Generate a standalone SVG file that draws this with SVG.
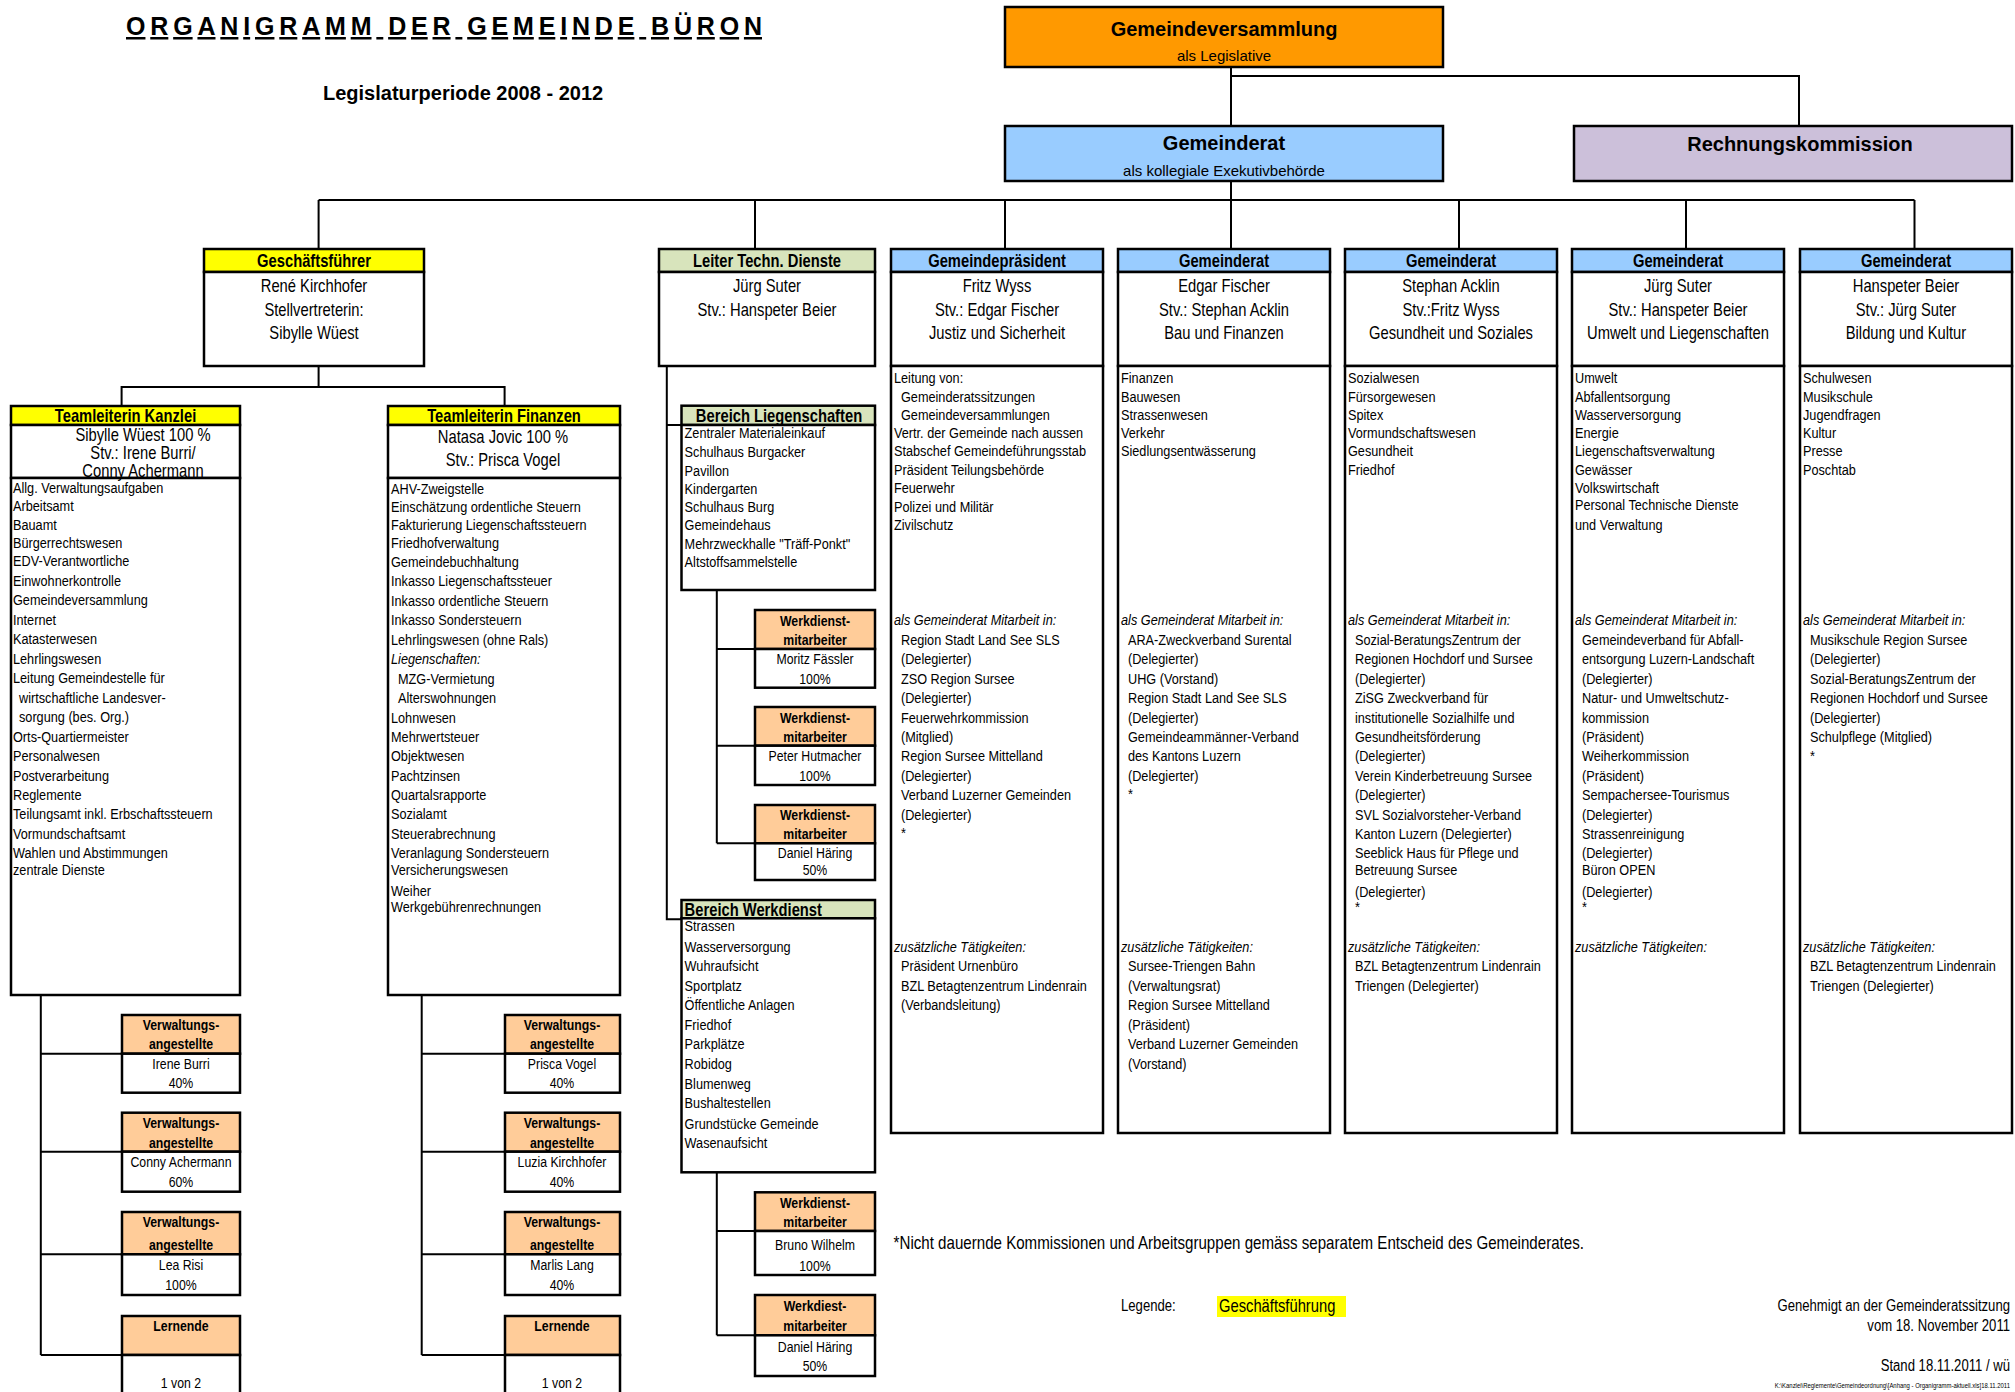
<svg xmlns="http://www.w3.org/2000/svg" width="2015" height="1392" viewBox="0 0 2015 1392">
<style>
.box{fill:#fff;stroke:#000;stroke-width:2.5}
.hy{fill:#FFFF00;stroke:#000;stroke-width:2.5}
.hg{fill:#D8E4BC;stroke:#000;stroke-width:2.5}
.hb{fill:#99CCFF;stroke:#000;stroke-width:2.5}
.hp{fill:#FFCC99;stroke:#000;stroke-width:2.5}
.ho{fill:#FF9900;stroke:#000;stroke-width:2.5}
.hl{fill:#CCC0DA;stroke:#000;stroke-width:2.5}
#connectors path{fill:none;stroke:#000;stroke-width:2}
text{font-family:"Liberation Sans",Arial,sans-serif;fill:#000}
.c{text-anchor:middle}
.r{text-anchor:end}
.b20{font-size:20px;font-weight:bold}
.s15{font-size:15px}
.b18{font-size:18px;font-weight:bold}
.n18{font-size:18px}
.n16{font-size:16px}
.l{font-size:15.5px}
.it{font-style:italic}
.b15{font-size:15px;font-weight:bold}
.n15{font-size:15px}
</style>

<g id="title">
<text x="126" y="35" font-size="25" font-weight="bold" textLength="636" lengthAdjust="spacing" text-decoration="underline">ORGANIGRAMM DER GEMEINDE BÜRON</text>
<text x="323" y="100" font-size="20" font-weight="bold">Legislaturperiode 2008 - 2012</text>
</g>

<g id="connectors">
<path d="M1231,67 V126"/>
<path d="M1231,76 H1799 V126"/>
<path d="M1231,181 V249"/>
<path d="M318.6,200 H1914.5"/>
<path d="M318.6,200 V249 M755,200 V249 M1005,200 V249 M1459,200 V249 M1686,200 V249 M1914.5,200 V249"/>
<path d="M318.6,366 V387 M121.6,406 V387 H504.6 V406"/>
<path d="M40.8,995 V1355 M40.8,1053.7 H122 M40.8,1151.7 H122 M40.8,1254.3 H122 M40.8,1355 H122"/>
<path d="M421.7,995 V1355 M421.7,1053.7 H505 M421.7,1151.7 H505 M421.7,1254.3 H505 M421.7,1355 H505"/>
<path d="M666.8,366 V919.3 H681.5 M666.8,425 H681.5"/>
<path d="M716.8,590 V843.3 M716.8,649 H755 M716.8,745.7 H755 M716.8,843.3 H755"/>
<path d="M716.8,1172.3 V1335.3 M716.8,1231 H755 M716.8,1335.3 H755"/>
</g>

<g id="gemeindeversammlung">
<rect class="ho" x="1005" y="7" width="438" height="60"/>
<text class="b20 c" x="1224" y="36">Gemeindeversammlung</text>
<text class="s15 c" x="1224" y="61">als Legislative</text>
</g>

<g id="gemeinderat">
<rect class="hb" x="1005" y="126" width="438" height="55"/>
<text class="b20 c" x="1224" y="150">Gemeinderat</text>
<text class="s15 c" x="1224" y="175.5">als kollegiale Exekutivbehörde</text>
</g>

<g id="rechnungskommission">
<rect class="hl" x="1574" y="126" width="438" height="55"/>
<text class="b20 c" x="1800" y="151">Rechnungskommission</text>
</g>

<g id="geschaeftsfuehrer">
<rect class="hy" x="204" y="249" width="220" height="23"/>
<rect class="box" x="204" y="272" width="220" height="94"/>
<g transform="matrix(.82 0 0 1 314 0)">
<text class="b18 c" x="0" y="267">Geschäftsführer</text>
<text class="n18 c" x="0" y="292">René Kirchhofer</text>
<text class="n18 c" x="0" y="316">Stellvertreterin:</text>
<text class="n18 c" x="0" y="339">Sibylle Wüest</text>
</g>
</g>

<g id="leiter-techn-dienste">
<rect class="hg" x="659" y="249" width="216" height="23"/>
<rect class="box" x="659" y="272" width="216" height="94"/>
<g transform="matrix(.82 0 0 1 767 0)">
<text class="b18 c" x="0" y="267">Leiter Techn. Dienste</text>
<text class="n18 c" x="0" y="292">Jürg Suter</text>
<text class="n18 c" x="0" y="316">Stv.: Hanspeter Beier</text>
</g>
</g>

<g id="gemeindepraesident">
<rect class="hb" x="891" y="249" width="212" height="23"/>
<rect class="box" x="891" y="272" width="212" height="94"/>
<rect class="box" x="891" y="366" width="212" height="767"/>
<g transform="matrix(.82 0 0 1 997 0)">
<text class="b18 c" x="0" y="267">Gemeindepräsident</text>
<text class="n18 c" x="0" y="292">Fritz Wyss</text>
<text class="n18 c" x="0" y="316">Stv.: Edgar Fischer</text>
<text class="n18 c" x="0" y="339">Justiz und Sicherheit</text>
</g>
<g transform="matrix(.82 0 0 1 894 0)">
<text class="l">
<tspan x="0" y="382.7">Leitung von:</tspan>
<tspan x="8.5" y="401.7">Gemeinderatssitzungen</tspan>
<tspan x="8.5" y="419.7">Gemeindeversammlungen</tspan>
<tspan x="0" y="438">Vertr. der Gemeinde nach aussen</tspan>
<tspan x="0" y="456">Stabschef Gemeindeführungsstab</tspan>
<tspan x="0" y="474.7">Präsident Teilungsbehörde</tspan>
<tspan x="0" y="493.3">Feuerwehr</tspan>
<tspan x="0" y="511.7">Polizei und Militär</tspan>
<tspan x="0" y="530">Zivilschutz</tspan>
</text>
<text class="l it" x="0" y="625">als Gemeinderat Mitarbeit in:</text>
<text class="l">
<tspan x="8.5" y="645">Region Stadt Land See SLS</tspan>
<tspan x="8.5" y="664">(Delegierter)</tspan>
<tspan x="8.5" y="684">ZSO Region Sursee</tspan>
<tspan x="8.5" y="703">(Delegierter)</tspan>
<tspan x="8.5" y="723">Feuerwehrkommission</tspan>
<tspan x="8.5" y="742">(Mitglied)</tspan>
<tspan x="8.5" y="761">Region Sursee Mittelland</tspan>
<tspan x="8.5" y="781">(Delegierter)</tspan>
<tspan x="8.5" y="800">Verband Luzerner Gemeinden</tspan>
<tspan x="8.5" y="820">(Delegierter)</tspan>
<tspan x="8.5" y="838">*</tspan>
</text>
<text class="l it" x="0" y="951.7">zusätzliche Tätigkeiten:</text>
<text class="l">
<tspan x="8.5" y="971">Präsident Urnenbüro</tspan>
<tspan x="8.5" y="991">BZL Betagtenzentrum Lindenrain</tspan>
<tspan x="8.5" y="1010">(Verbandsleitung)</tspan>
</text>
</g>
</g>

<g id="gemeinderat-fischer">
<rect class="hb" x="1118" y="249" width="212" height="23"/>
<rect class="box" x="1118" y="272" width="212" height="94"/>
<rect class="box" x="1118" y="366" width="212" height="767"/>
<g transform="matrix(.82 0 0 1 1224 0)">
<text class="b18 c" x="0" y="267">Gemeinderat</text>
<text class="n18 c" x="0" y="292">Edgar Fischer</text>
<text class="n18 c" x="0" y="316">Stv.: Stephan Acklin</text>
<text class="n18 c" x="0" y="339">Bau und Finanzen</text>
</g>
<g transform="matrix(.82 0 0 1 1121 0)">
<text class="l">
<tspan x="0" y="382.7">Finanzen</tspan>
<tspan x="0" y="401.7">Bauwesen</tspan>
<tspan x="0" y="419.7">Strassenwesen</tspan>
<tspan x="0" y="438">Verkehr</tspan>
<tspan x="0" y="456">Siedlungsentwässerung</tspan>
</text>
<text class="l it" x="0" y="625">als Gemeinderat Mitarbeit in:</text>
<text class="l">
<tspan x="8.5" y="645">ARA-Zweckverband Surental</tspan>
<tspan x="8.5" y="664">(Delegierter)</tspan>
<tspan x="8.5" y="684">UHG (Vorstand)</tspan>
<tspan x="8.5" y="703">Region Stadt Land See SLS</tspan>
<tspan x="8.5" y="723">(Delegierter)</tspan>
<tspan x="8.5" y="742">Gemeindeammänner-Verband</tspan>
<tspan x="8.5" y="761">des Kantons Luzern</tspan>
<tspan x="8.5" y="781">(Delegierter)</tspan>
<tspan x="8.5" y="799">*</tspan>
</text>
<text class="l it" x="0" y="951.7">zusätzliche Tätigkeiten:</text>
<text class="l">
<tspan x="8.5" y="971">Sursee-Triengen Bahn</tspan>
<tspan x="8.5" y="991">(Verwaltungsrat)</tspan>
<tspan x="8.5" y="1010">Region Sursee Mittelland</tspan>
<tspan x="8.5" y="1030">(Präsident)</tspan>
<tspan x="8.5" y="1049">Verband Luzerner Gemeinden</tspan>
<tspan x="8.5" y="1069">(Vorstand)</tspan>
</text>
</g>
</g>

<g id="gemeinderat-acklin">
<rect class="hb" x="1345" y="249" width="212" height="23"/>
<rect class="box" x="1345" y="272" width="212" height="94"/>
<rect class="box" x="1345" y="366" width="212" height="767"/>
<g transform="matrix(.82 0 0 1 1451 0)">
<text class="b18 c" x="0" y="267">Gemeinderat</text>
<text class="n18 c" x="0" y="292">Stephan Acklin</text>
<text class="n18 c" x="0" y="316">Stv.:Fritz Wyss</text>
<text class="n18 c" x="0" y="339">Gesundheit und Soziales</text>
</g>
<g transform="matrix(.82 0 0 1 1348 0)">
<text class="l">
<tspan x="0" y="382.7">Sozialwesen</tspan>
<tspan x="0" y="401.7">Fürsorgewesen</tspan>
<tspan x="0" y="419.7">Spitex</tspan>
<tspan x="0" y="438">Vormundschaftswesen</tspan>
<tspan x="0" y="456">Gesundheit</tspan>
<tspan x="0" y="474.7">Friedhof</tspan>
</text>
<text class="l it" x="0" y="625">als Gemeinderat Mitarbeit in:</text>
<text class="l">
<tspan x="8.5" y="645">Sozial-BeratungsZentrum der</tspan>
<tspan x="8.5" y="664">Regionen Hochdorf und Sursee</tspan>
<tspan x="8.5" y="684">(Delegierter)</tspan>
<tspan x="8.5" y="703">ZiSG Zweckverband für</tspan>
<tspan x="8.5" y="723">institutionelle Sozialhilfe und</tspan>
<tspan x="8.5" y="742">Gesundheitsförderung</tspan>
<tspan x="8.5" y="761">(Delegierter)</tspan>
<tspan x="8.5" y="781">Verein Kinderbetreuung Sursee</tspan>
<tspan x="8.5" y="800">(Delegierter)</tspan>
<tspan x="8.5" y="820">SVL Sozialvorsteher-Verband</tspan>
<tspan x="8.5" y="839">Kanton Luzern (Delegierter)</tspan>
<tspan x="8.5" y="858">Seeblick Haus für Pflege und</tspan>
<tspan x="8.5" y="875">Betreuung Sursee</tspan>
<tspan x="8.5" y="896.7">(Delegierter)</tspan>
<tspan x="8.5" y="912">*</tspan>
</text>
<text class="l it" x="0" y="951.7">zusätzliche Tätigkeiten:</text>
<text class="l">
<tspan x="8.5" y="971">BZL Betagtenzentrum Lindenrain</tspan>
<tspan x="8.5" y="991">Triengen (Delegierter)</tspan>
</text>
</g>
</g>

<g id="gemeinderat-suter">
<rect class="hb" x="1572" y="249" width="212" height="23"/>
<rect class="box" x="1572" y="272" width="212" height="94"/>
<rect class="box" x="1572" y="366" width="212" height="767"/>
<g transform="matrix(.82 0 0 1 1678 0)">
<text class="b18 c" x="0" y="267">Gemeinderat</text>
<text class="n18 c" x="0" y="292">Jürg Suter</text>
<text class="n18 c" x="0" y="316">Stv.: Hanspeter Beier</text>
<text class="n18 c" x="0" y="339">Umwelt und Liegenschaften</text>
</g>
<g transform="matrix(.82 0 0 1 1575 0)">
<text class="l">
<tspan x="0" y="382.7">Umwelt</tspan>
<tspan x="0" y="401.7">Abfallentsorgung</tspan>
<tspan x="0" y="419.7">Wasserversorgung</tspan>
<tspan x="0" y="438">Energie</tspan>
<tspan x="0" y="456">Liegenschaftsverwaltung</tspan>
<tspan x="0" y="474.7">Gewässer</tspan>
<tspan x="0" y="493.3">Volkswirtschaft</tspan>
<tspan x="0" y="510">Personal Technische Dienste</tspan>
<tspan x="0" y="530">und Verwaltung</tspan>
</text>
<text class="l it" x="0" y="625">als Gemeinderat Mitarbeit in:</text>
<text class="l">
<tspan x="8.5" y="645">Gemeindeverband für Abfall-</tspan>
<tspan x="8.5" y="664">entsorgung Luzern-Landschaft</tspan>
<tspan x="8.5" y="684">(Delegierter)</tspan>
<tspan x="8.5" y="703">Natur- und Umweltschutz-</tspan>
<tspan x="8.5" y="723">kommission</tspan>
<tspan x="8.5" y="742">(Präsident)</tspan>
<tspan x="8.5" y="761">Weiherkommission</tspan>
<tspan x="8.5" y="781">(Präsident)</tspan>
<tspan x="8.5" y="800">Sempachersee-Tourismus</tspan>
<tspan x="8.5" y="820">(Delegierter)</tspan>
<tspan x="8.5" y="839">Strassenreinigung</tspan>
<tspan x="8.5" y="858">(Delegierter)</tspan>
<tspan x="8.5" y="875">Büron OPEN</tspan>
<tspan x="8.5" y="896.7">(Delegierter)</tspan>
<tspan x="8.5" y="912">*</tspan>
</text>
<text class="l it" x="0" y="951.7">zusätzliche Tätigkeiten:</text>
</g>
</g>

<g id="gemeinderat-beier">
<rect class="hb" x="1800" y="249" width="212" height="23"/>
<rect class="box" x="1800" y="272" width="212" height="94"/>
<rect class="box" x="1800" y="366" width="212" height="767"/>
<g transform="matrix(.82 0 0 1 1906 0)">
<text class="b18 c" x="0" y="267">Gemeinderat</text>
<text class="n18 c" x="0" y="292">Hanspeter Beier</text>
<text class="n18 c" x="0" y="316">Stv.: Jürg Suter</text>
<text class="n18 c" x="0" y="339">Bildung und Kultur</text>
</g>
<g transform="matrix(.82 0 0 1 1803 0)">
<text class="l">
<tspan x="0" y="382.7">Schulwesen</tspan>
<tspan x="0" y="401.7">Musikschule</tspan>
<tspan x="0" y="419.7">Jugendfragen</tspan>
<tspan x="0" y="438">Kultur</tspan>
<tspan x="0" y="456">Presse</tspan>
<tspan x="0" y="474.7">Poschtab</tspan>
</text>
<text class="l it" x="0" y="625">als Gemeinderat Mitarbeit in:</text>
<text class="l">
<tspan x="8.5" y="645">Musikschule Region Sursee</tspan>
<tspan x="8.5" y="664">(Delegierter)</tspan>
<tspan x="8.5" y="684">Sozial-BeratungsZentrum der</tspan>
<tspan x="8.5" y="703">Regionen Hochdorf und Sursee</tspan>
<tspan x="8.5" y="723">(Delegierter)</tspan>
<tspan x="8.5" y="742">Schulpflege (Mitglied)</tspan>
<tspan x="8.5" y="761">*</tspan>
</text>
<text class="l it" x="0" y="951.7">zusätzliche Tätigkeiten:</text>
<text class="l">
<tspan x="8.5" y="971">BZL Betagtenzentrum Lindenrain</tspan>
<tspan x="8.5" y="991">Triengen (Delegierter)</tspan>
</text>
</g>
</g>

<g id="teamleiterin-kanzlei">
<rect class="hy" x="11" y="406" width="229" height="19"/>
<rect class="box" x="11" y="425" width="229" height="53"/>
<rect class="box" x="11" y="478" width="229" height="517"/>
<text class="b18 c" transform="matrix(.82 0 0 1 125.5 0)" x="0" y="422">Teamleiterin Kanzlei</text>
<g transform="matrix(.82 0 0 1 143 0)">
<text class="n18 c" x="0" y="441">Sibylle Wüest 100 %</text>
<text class="n18 c" x="0" y="459">Stv.: Irene Burri/</text>
<text class="n18 c" x="0" y="477">Conny Achermann</text>
</g>
<text class="l" transform="matrix(.82 0 0 1 13 0)">
<tspan x="0" y="493.3">Allg. Verwaltungsaufgaben</tspan>
<tspan x="0" y="511">Arbeitsamt</tspan>
<tspan x="0" y="530">Bauamt</tspan>
<tspan x="0" y="547.7">Bürgerrechtswesen</tspan>
<tspan x="0" y="566">EDV-Verantwortliche</tspan>
<tspan x="0" y="585.7">Einwohnerkontrolle</tspan>
<tspan x="0" y="605">Gemeindeversammlung</tspan>
<tspan x="0" y="625">Internet</tspan>
<tspan x="0" y="644">Katasterwesen</tspan>
<tspan x="0" y="664">Lehrlingswesen</tspan>
<tspan x="0" y="683.3">Leitung Gemeindestelle für</tspan>
<tspan x="7.3" y="703.3">wirtschaftliche Landesver-</tspan>
<tspan x="7.3" y="722.3">sorgung (bes. Org.)</tspan>
<tspan x="0" y="741.7">Orts-Quartiermeister</tspan>
<tspan x="0" y="761">Personalwesen</tspan>
<tspan x="0" y="780.7">Postverarbeitung</tspan>
<tspan x="0" y="800">Reglemente</tspan>
<tspan x="0" y="819">Teilungsamt inkl. Erbschaftssteuern</tspan>
<tspan x="0" y="839">Vormundschaftsamt</tspan>
<tspan x="0" y="857.7">Wahlen und Abstimmungen</tspan>
<tspan x="0" y="875">zentrale Dienste</tspan>
</text>
</g>

<g id="teamleiterin-finanzen">
<rect class="hy" x="388" y="406" width="232" height="19"/>
<rect class="box" x="388" y="425" width="232" height="53"/>
<rect class="box" x="388" y="478" width="232" height="517"/>
<text class="b18 c" transform="matrix(.82 0 0 1 504 0)" x="0" y="422">Teamleiterin Finanzen</text>
<g transform="matrix(.82 0 0 1 503 0)">
<text class="n18 c" x="0" y="443">Natasa Jovic 100 %</text>
<text class="n18 c" x="0" y="466">Stv.: Prisca Vogel</text>
</g>
<text class="l" transform="matrix(.82 0 0 1 391 0)">
<tspan x="0" y="494.3">AHV-Zweigstelle</tspan>
<tspan x="0" y="511.7">Einschätzung ordentliche Steuern</tspan>
<tspan x="0" y="530">Fakturierung Liegenschaftssteuern</tspan>
<tspan x="0" y="547.7">Friedhofverwaltung</tspan>
<tspan x="0" y="566.7">Gemeindebuchhaltung</tspan>
<tspan x="0" y="586">Inkasso Liegenschaftssteuer</tspan>
<tspan x="0" y="605.7">Inkasso ordentliche Steuern</tspan>
<tspan x="0" y="625">Inkasso Sondersteuern</tspan>
<tspan x="0" y="645">Lehrlingswesen (ohne Rals)</tspan>
<tspan x="0" y="664.3" font-style="italic">Liegenschaften:</tspan>
<tspan x="8.5" y="684">MZG-Vermietung</tspan>
<tspan x="8.5" y="703.3">Alterswohnungen</tspan>
<tspan x="0" y="722.7">Lohnwesen</tspan>
<tspan x="0" y="741.7">Mehrwertsteuer</tspan>
<tspan x="0" y="761">Objektwesen</tspan>
<tspan x="0" y="780.7">Pachtzinsen</tspan>
<tspan x="0" y="800">Quartalsrapporte</tspan>
<tspan x="0" y="819.3">Sozialamt</tspan>
<tspan x="0" y="839">Steuerabrechnung</tspan>
<tspan x="0" y="857.7">Veranlagung Sondersteuern</tspan>
<tspan x="0" y="875">Versicherungswesen</tspan>
<tspan x="0" y="895.7">Weiher</tspan>
<tspan x="0" y="912.3">Werkgebührenrechnungen</tspan>
</text>
</g>

<g id="bereich-liegenschaften">
<rect class="hg" x="681.5" y="405.7" width="193.5" height="19.3"/>
<rect class="box" x="681.5" y="425" width="193.5" height="165"/>
<text class="b18 c" transform="matrix(.82 0 0 1 779 0)" x="0" y="422">Bereich Liegenschaften</text>
<text class="l" transform="matrix(.82 0 0 1 684.6 0)">
<tspan x="0" y="438.3">Zentraler Materialeinkauf</tspan>
<tspan x="0" y="457">Schulhaus Burgacker</tspan>
<tspan x="0" y="475.7">Pavillon</tspan>
<tspan x="0" y="494">Kindergarten</tspan>
<tspan x="0" y="512">Schulhaus Burg</tspan>
<tspan x="0" y="530">Gemeindehaus</tspan>
<tspan x="0" y="548.7">Mehrzweckhalle "Träff-Ponkt"</tspan>
<tspan x="0" y="567">Altstoffsammelstelle</tspan>
</text>
</g>

<g id="bereich-werkdienst">
<rect class="hg" x="681.5" y="900" width="193.5" height="18.3"/>
<rect class="box" x="681.5" y="918.3" width="193.5" height="254"/>
<g transform="matrix(.82 0 0 1 684.6 0)">
<text class="b18" x="0" y="916">Bereich Werkdienst</text>
<text class="l">
<tspan x="0" y="931">Strassen</tspan>
<tspan x="0" y="952.3">Wasserversorgung</tspan>
<tspan x="0" y="971">Wuhraufsicht</tspan>
<tspan x="0" y="991">Sportplatz</tspan>
<tspan x="0" y="1010">Öffentliche Anlagen</tspan>
<tspan x="0" y="1030">Friedhof</tspan>
<tspan x="0" y="1049">Parkplätze</tspan>
<tspan x="0" y="1069">Robidog</tspan>
<tspan x="0" y="1089">Blumenweg</tspan>
<tspan x="0" y="1108">Bushaltestellen</tspan>
<tspan x="0" y="1129">Grundstücke Gemeinde</tspan>
<tspan x="0" y="1148">Wasenaufsicht</tspan>
</text>
</g>
</g>

<g id="werkdienst-faessler">
<rect class="hp" x="755" y="610" width="120" height="39"/>
<rect class="box" x="755" y="649" width="120" height="38.7"/>
<g transform="matrix(.82 0 0 1 815 0)">
<text class="b15 c" x="0" y="626">Werkdienst-</text>
<text class="b15 c" x="0" y="645">mitarbeiter</text>
<text class="n15 c" x="0" y="664">Moritz Fässler</text>
<text class="n15 c" x="0" y="684">100%</text>
</g>
</g>

<g id="werkdienst-hutmacher">
<rect class="hp" x="755" y="707" width="120" height="38.7"/>
<rect class="box" x="755" y="745.7" width="120" height="39.3"/>
<g transform="matrix(.82 0 0 1 815 0)">
<text class="b15 c" x="0" y="723">Werkdienst-</text>
<text class="b15 c" x="0" y="742">mitarbeiter</text>
<text class="n15 c" x="0" y="761">Peter Hutmacher</text>
<text class="n15 c" x="0" y="781">100%</text>
</g>
</g>

<g id="werkdienst-haering-1">
<rect class="hp" x="755" y="805" width="120" height="38.3"/>
<rect class="box" x="755" y="843.3" width="120" height="36.7"/>
<g transform="matrix(.82 0 0 1 815 0)">
<text class="b15 c" x="0" y="820">Werkdienst-</text>
<text class="b15 c" x="0" y="839">mitarbeiter</text>
<text class="n15 c" x="0" y="858">Daniel Häring</text>
<text class="n15 c" x="0" y="875">50%</text>
</g>
</g>

<g id="werkdienst-wilhelm">
<rect class="hp" x="755" y="1192.3" width="120" height="38.7"/>
<rect class="box" x="755" y="1231" width="120" height="44"/>
<g transform="matrix(.82 0 0 1 815 0)">
<text class="b15 c" x="0" y="1208.3">Werkdienst-</text>
<text class="b15 c" x="0" y="1226.7">mitarbeiter</text>
<text class="n15 c" x="0" y="1250">Bruno Wilhelm</text>
<text class="n15 c" x="0" y="1270.7">100%</text>
</g>
</g>

<g id="werkdienst-haering-2">
<rect class="hp" x="755" y="1295" width="120" height="40.3"/>
<rect class="box" x="755" y="1335.3" width="120" height="40.7"/>
<g transform="matrix(.82 0 0 1 815 0)">
<text class="b15 c" x="0" y="1311">Werkdiest-</text>
<text class="b15 c" x="0" y="1331">mitarbeiter</text>
<text class="n15 c" x="0" y="1351.7">Daniel Häring</text>
<text class="n15 c" x="0" y="1371">50%</text>
</g>
</g>

<g id="verwaltung-burri">
<rect class="hp" x="122" y="1015" width="118" height="38.7"/>
<rect class="box" x="122" y="1053.7" width="118" height="39"/>
<g transform="matrix(.82 0 0 1 181 0)">
<text class="b15 c" x="0" y="1030.3">Verwaltungs-</text>
<text class="b15 c" x="0" y="1049">angestellte</text>
<text class="n15 c" x="0" y="1069">Irene Burri</text>
<text class="n15 c" x="0" y="1087.7">40%</text>
</g>
</g>

<g id="verwaltung-achermann">
<rect class="hp" x="122" y="1112.7" width="118" height="39"/>
<rect class="box" x="122" y="1151.7" width="118" height="40"/>
<g transform="matrix(.82 0 0 1 181 0)">
<text class="b15 c" x="0" y="1128.3">Verwaltungs-</text>
<text class="b15 c" x="0" y="1148">angestellte</text>
<text class="n15 c" x="0" y="1167">Conny Achermann</text>
<text class="n15 c" x="0" y="1186.7">60%</text>
</g>
</g>

<g id="verwaltung-risi">
<rect class="hp" x="122" y="1212" width="118" height="42.3"/>
<rect class="box" x="122" y="1254.3" width="118" height="40.7"/>
<g transform="matrix(.82 0 0 1 181 0)">
<text class="b15 c" x="0" y="1227.3">Verwaltungs-</text>
<text class="b15 c" x="0" y="1250">angestellte</text>
<text class="n15 c" x="0" y="1270">Lea Risi</text>
<text class="n15 c" x="0" y="1290">100%</text>
</g>
</g>

<g id="lernende-kanzlei">
<rect class="hp" x="122" y="1316" width="118" height="39"/>
<rect class="box" x="122" y="1355" width="118" height="50"/>
<g transform="matrix(.82 0 0 1 181 0)">
<text class="b15 c" x="0" y="1331">Lernende</text>
<text class="n15 c" x="0" y="1388">1 von 2</text>
</g>
</g>

<g id="verwaltung-vogel">
<rect class="hp" x="505" y="1015" width="115" height="38.7"/>
<rect class="box" x="505" y="1053.7" width="115" height="39"/>
<g transform="matrix(.82 0 0 1 562 0)">
<text class="b15 c" x="0" y="1030.3">Verwaltungs-</text>
<text class="b15 c" x="0" y="1049">angestellte</text>
<text class="n15 c" x="0" y="1069">Prisca Vogel</text>
<text class="n15 c" x="0" y="1087.7">40%</text>
</g>
</g>

<g id="verwaltung-kirchhofer">
<rect class="hp" x="505" y="1112.7" width="115" height="39"/>
<rect class="box" x="505" y="1151.7" width="115" height="40"/>
<g transform="matrix(.82 0 0 1 562 0)">
<text class="b15 c" x="0" y="1128.3">Verwaltungs-</text>
<text class="b15 c" x="0" y="1148">angestellte</text>
<text class="n15 c" x="0" y="1167">Luzia Kirchhofer</text>
<text class="n15 c" x="0" y="1186.7">40%</text>
</g>
</g>

<g id="verwaltung-lang">
<rect class="hp" x="505" y="1212" width="115" height="42.3"/>
<rect class="box" x="505" y="1254.3" width="115" height="40.7"/>
<g transform="matrix(.82 0 0 1 562 0)">
<text class="b15 c" x="0" y="1227.3">Verwaltungs-</text>
<text class="b15 c" x="0" y="1250">angestellte</text>
<text class="n15 c" x="0" y="1270">Marlis Lang</text>
<text class="n15 c" x="0" y="1290">40%</text>
</g>
</g>

<g id="lernende-finanzen">
<rect class="hp" x="505" y="1316" width="115" height="39"/>
<rect class="box" x="505" y="1355" width="115" height="50"/>
<g transform="matrix(.82 0 0 1 562 0)">
<text class="b15 c" x="0" y="1331">Lernende</text>
<text class="n15 c" x="0" y="1388">1 von 2</text>
</g>
</g>

<g id="notes">
<text class="n18" transform="matrix(.84 0 0 1 893.6 0)" x="0" y="1249.5">*Nicht dauernde Kommissionen und Arbeitsgruppen gemäss separatem Entscheid des Gemeinderates.</text>
<text class="n16" transform="matrix(.82 0 0 1 1121 0)" x="0" y="1311">Legende:</text>
<rect x="1217" y="1296" width="129" height="21" fill="#FFFF00"/>
<text class="n18" transform="matrix(.82 0 0 1 1219 0)" x="0" y="1312">Geschäftsführung</text>
<g transform="matrix(.82 0 0 1 2010 0)">
<text class="n16 r" x="0" y="1311.5">Genehmigt an der Gemeinderatssitzung</text>
<text class="n16 r" x="0" y="1331">vom 18. November 2011</text>
<text class="n16 r" x="0" y="1371">Stand 18.11.2011 / wü</text>
</g>
<text class="r" transform="matrix(.85 0 0 1 2010 0)" x="0" y="1388" font-size="7">K:\Kanzlei\Reglemente\Gemeindeordnung\[Anhang - Organigramm-aktuell.xls]18.11.2011</text>
</g>
</svg>
